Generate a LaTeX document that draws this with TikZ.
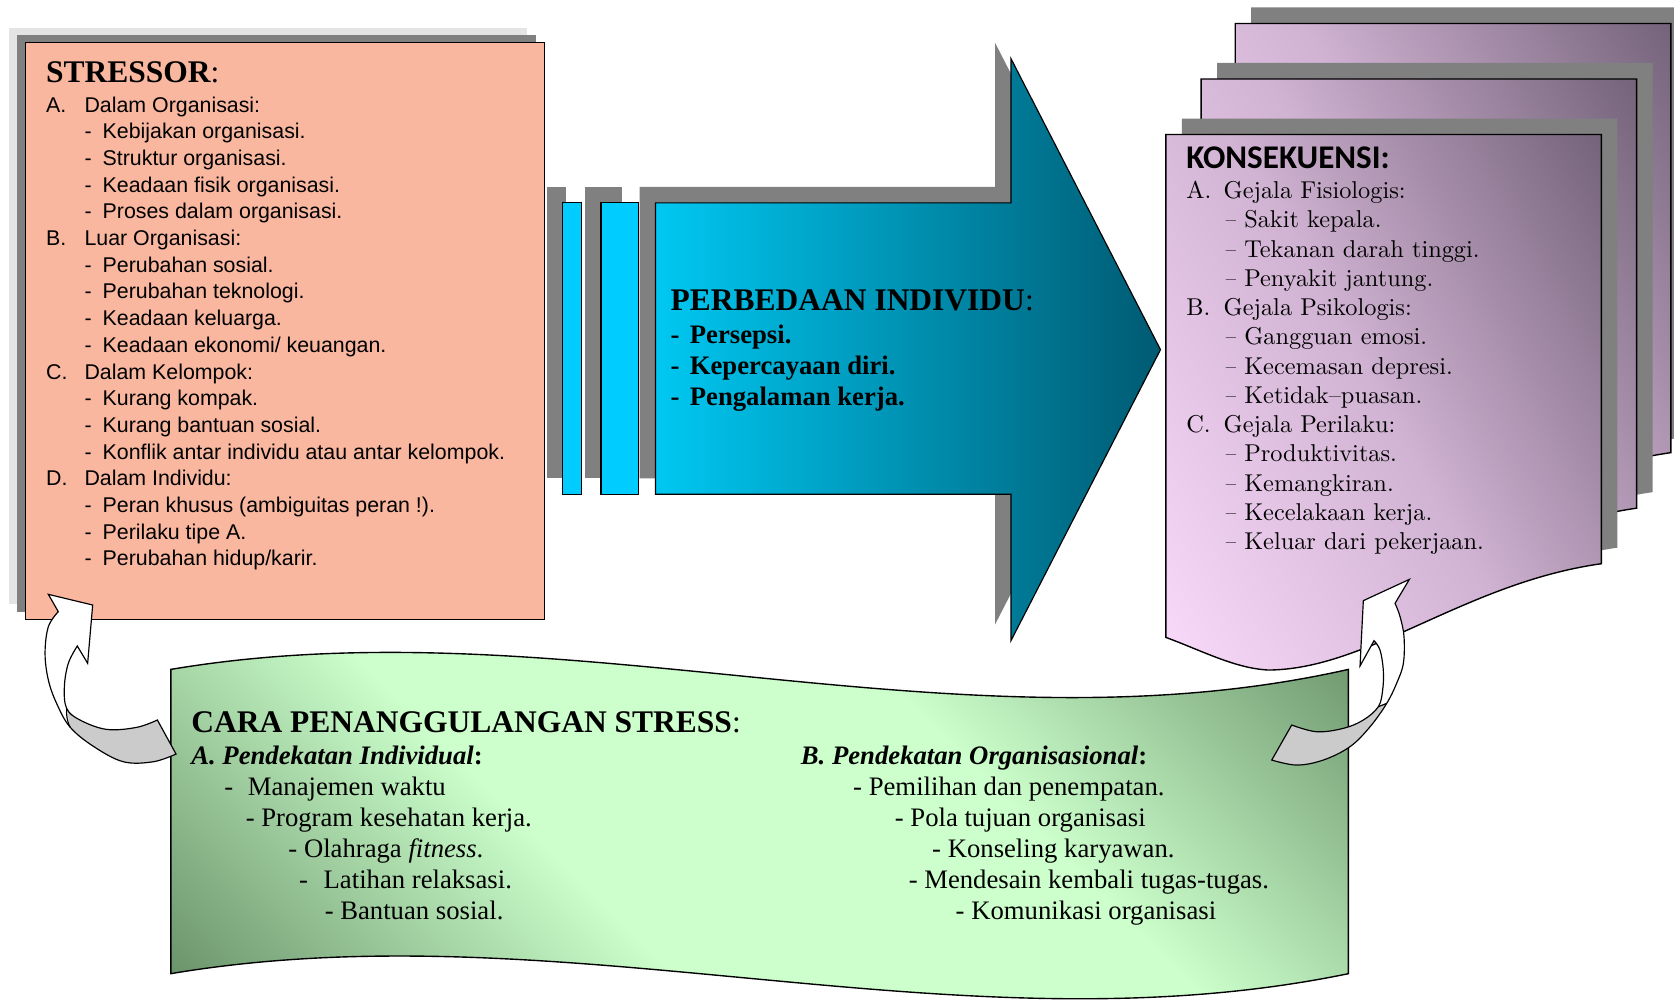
\documentclass[tikz,border=0pt]{standalone}
\usepackage{fontspec}
\usepackage{graphicx}
\newfontfamily\timesf{Liberation Serif}
\newfontfamily\arialf{Liberation Sans}
\newfontfamily\calibrif{Carlito}

\definecolor{salmon}{HTML}{F9B7A0}
\definecolor{shadowdark}{HTML}{808080}
\definecolor{shadowlight}{HTML}{E4E4E4}
\definecolor{cyanbar}{HTML}{00CCFF}
\definecolor{arrowleft}{HTML}{00C8F2}
\definecolor{arrowright}{HTML}{005A72}
\definecolor{pagelight}{HTML}{FADAFA}
\definecolor{pagemid}{HTML}{D0B2D2}
\definecolor{pagedark}{HTML}{74637A}
\definecolor{glight}{HTML}{CCFFCC}
\definecolor{gdarkA}{HTML}{5E855E}
\definecolor{gdarkB}{HTML}{638A63}
\definecolor{tailgray}{HTML}{CBCBCB}

% diagonal green fill: dark corners, light middle
\pgfdeclareverticalshading{wavegreen}{100bp}{color(0bp)=(gdarkA); color(15bp)=(gdarkA); color(40bp)=(glight); color(62bp)=(glight); color(86bp)=(gdarkB); color(100bp)=(gdarkB)}
% page fill: pink at the lower left, mauve at the upper right
\pgfdeclareverticalshading{pageshade}{100bp}{color(0bp)=(pagelight); color(16bp)=(pagelight); color(50bp)=(pagemid); color(84bp)=(pagedark); color(100bp)=(pagedark)}

\newcommand\sthead[1]{\makebox[36pt][l]{#1}}
\newcommand\stitem{\makebox[36pt][l]{}\makebox[17pt][l]{-}}
% list text on the front page is set at 10pt and enlarged
\newcommand\kotext[1]{\scalebox{2.28}{\fontsize{10}{12}\selectfont #1}}
\newcommand\kohead[1]{\makebox[15.35pt][l]{#1}}
\newcommand\koitem{\makebox[16.2pt][l]{}\makebox[7.6pt][l]{\scalebox{0.85}[1]{–}}}

\tikzset{
  outline/.style={draw=black, line width=1.3pt, line join=miter},
  stxt/.style={anchor=base west, inner sep=0pt, font=\arialf\fontsize{20}{24}\selectfont},
  ktxt/.style={anchor=base west, inner sep=0pt, font=\rmfamily},
  ptxt/.style={anchor=base west, inner sep=0pt, font=\timesf\bfseries\fontsize{25}{29}\selectfont},
  gtxt/.style={anchor=base west, inner sep=0pt, font=\timesf\fontsize{25}{29}\selectfont},
  ttl/.style={anchor=base west, inner sep=0pt, font=\timesf\fontsize{29.5}{34}\selectfont},
}

\begin{document}
\begin{tikzpicture}[x=1pt,y=-1pt]
\useasboundingbox (0,0) rectangle (1568,937);
\fill[white] (0,0) rectangle (1568,937);

% ---------- STRESSOR box with its two shadows ----------
\fill[shadowlight] (8,26) rectangle (494,566);
\fill[shadowdark] (16,33) rectangle (502,573);
\draw[outline, fill=salmon] (24,40) rectangle (510,580);
\node[ttl] (sttitle) at (43,77) {\bfseries STRESSOR\mdseries:};
\foreach \txt [count=\i from 0] in {
  {\sthead{A.}Dalam Organisasi:},
  {\stitem Kebijakan organisasi.},
  {\stitem Struktur organisasi.},
  {\stitem Keadaan fisik organisasi.},
  {\stitem Proses dalam organisasi.},
  {\sthead{B.}Luar Organisasi:},
  {\stitem Perubahan sosial.},
  {\stitem Perubahan teknologi.},
  {\stitem Keadaan keluarga.},
  {\stitem Keadaan ekonomi/ keuangan.},
  {\sthead{C.}Dalam Kelompok:},
  {\stitem Kurang kompak.},
  {\stitem Kurang bantuan sosial.},
  {\stitem Konflik antar individu atau antar kelompok.},
  {\sthead{D.}Dalam Individu:},
  {\stitem Peran khusus (ambiguitas peran !).},
  {\stitem Perilaku tipe A.},
  {\stitem Perubahan hidup/karir.}}
  \node[stxt] (st\i) at (43,105+25*\i) {\txt};

% ---------- bars and block arrow ----------
\fill[shadowdark] (512,175) rectangle (530,448);
\fill[shadowdark] (548,175) rectangle (583,448);
\fill[shadowdark] (599,175) -- (932,175) -- (932,40) -- (1072,312.5) -- (932,585) -- (932,448) -- (599,448) -- cycle;
\draw[outline, line width=1.1pt, fill=cyanbar] (527,190) rectangle (545,463);
\draw[outline, line width=1.1pt, fill=cyanbar] (563,190) rectangle (598,463);
\shade[outline, line width=1.1pt, left color=arrowleft, right color=arrowright]
  (614,190) -- (947,190) -- (947,55) -- (1087,327.5) -- (947,600) -- (947,463) -- (614,463) -- cycle;
\node[ttl] (pbtitle) at (628,291) {\bfseries PERBEDAAN INDIVIDU\mdseries:};
\node[ptxt] (pb1) at (628,322) {\makebox[18pt][l]{-}Persepsi.};
\node[ptxt] (pb2) at (628,351) {\makebox[18pt][l]{-}Kepercayaan diri.};
\node[ptxt] (pb3) at (628,380) {\makebox[18pt][l]{-}Pengalaman kerja.};

% ---------- stacked document pages ----------
\foreach \px/\py in {1157/22, 1125/74, 1092/126} {
  \begin{scope}[shift={(\px,\py)}]
    \fill[shadowdark] (15,-15) -- (423,-15) -- (423,387) .. controls (295,405) and (205,486) .. (111,486.6) .. controls (80,485) and (50,469) .. (15,456) -- cycle;
    \shade[outline, shading=pageshade, shading angle=-61]
      (0,0) -- (408,0) -- (408,402) .. controls (280,420) and (190,501) .. (96,501.6) .. controls (65,500) and (35,484) .. (0,471) -- cycle;
  \end{scope}
}
\node[anchor=base west, inner sep=0pt, font=\calibrif\bfseries\fontsize{31}{36}\selectfont] (kotitle) at (1111,158) {KONSEKUENSI:};
\foreach \txt [count=\i from 0] in {
  {\kohead{A.}Gejala Fisiologis:},
  {\koitem Sakit kepala.},
  {\koitem Tekanan darah tinggi.},
  {\koitem Penyakit jantung.},
  {\kohead{B.}Gejala Psikologis:},
  {\koitem Gangguan emosi.},
  {\koitem Kecemasan depresi.},
  {\koitem Ketidak–puasan.},
  {\kohead{C.}Gejala Perilaku:},
  {\koitem Produktivitas.},
  {\koitem Kemangkiran.},
  {\koitem Kecelakaan kerja.},
  {\koitem Keluar dari pekerjaan.}}
  \node[ktxt] (ko\i) at (1111,186+27.4*\i) {\kotext{\txt}};

% ---------- wave banner ----------
\shade[outline, shading=wavegreen, shading angle=-45]
  (160,627) .. controls (528,565) and (895,710) .. (1263,627) -- (1263,912)
  .. controls (895,988) and (528,850) .. (160,912) -- cycle;
\node[ttl] (cptitle) at (179,686) {\bfseries CARA PENANGGULANGAN STRESS\mdseries:};
\node[gtxt] (pa) at (179,716) {\bfseries\itshape A. Pendekatan Individual\upshape:};
\node[gtxt] (pa1) at (210,745) {\makebox[22pt][l]{-}Manajemen waktu};
\node[gtxt] (pa2) at (230,774) {- Program kesehatan kerja.};
\node[gtxt] (pa3) at (270,803) {- Olahraga \textit{fitness}.};
\node[gtxt] (pa4) at (280,832) {\makebox[23pt][l]{-}Latihan relaksasi.};
\node[gtxt] (pa5) at (304,861) {- Bantuan sosial.};
\node[gtxt] (pb) at (750,716) {\bfseries\itshape B. Pendekatan Organisasional\upshape:};
\node[gtxt] (po1) at (799,745) {- Pemilihan dan penempatan.};
\node[gtxt] (po2) at (838,774) {- Pola tujuan organisasi};
\node[gtxt] (po3) at (873,803) {- Konseling karyawan.};
\node[gtxt] (po4) at (851,832) {- Mendesain kembali tugas-tugas.};
\node[gtxt] (po5) at (895,861) {- Komunikasi organisasi};

% ---------- curved arrow back to the stressor box ----------
\fill[white] (45.3,556.7) -- (86.8,566.7) -- (82.1,621.3) -- (72.4,605.1)
  -- plot[smooth, tension=0.6] coordinates {(72.4,605.1) (64,621.3) (60.3,643.2) (62.4,663.5) (74.9,674.4) (99.9,683.2) (128,681.3) (147.4,674.4)}
  -- (164.9,706.3)
  -- plot[smooth, tension=0.6] coordinates {(164.9,706.3) (143.6,713.5) (115.5,713.5) (87.4,699) (65.6,681) (53.1,659) (45.3,637) (42.2,612) (45.3,587) (54.6,572.9)}
  -- cycle;
\fill[tailgray] plot[smooth, tension=0.6] coordinates {(62.4,663.5) (74.9,674.4) (99.9,683.2) (128,681.3) (147.4,674.4)}
  -- (164.9,706.3)
  -- plot[smooth, tension=0.6] coordinates {(164.9,706.3) (143.6,713.5) (115.5,713.5) (87.4,699) (65.6,681)}
  -- cycle;
\draw[outline, line width=1.1pt] (45.3,556.7) -- (86.8,566.7) -- (82.1,621.3) -- (72.4,605.1)
  -- plot[smooth, tension=0.6] coordinates {(72.4,605.1) (64,621.3) (60.3,643.2) (62.4,663.5) (74.9,674.4) (99.9,683.2) (128,681.3) (147.4,674.4)}
  -- (164.9,706.3)
  -- plot[smooth, tension=0.6] coordinates {(164.9,706.3) (143.6,713.5) (115.5,713.5) (87.4,699) (65.6,681) (53.1,659) (45.3,637) (42.2,612) (45.3,587) (54.6,572.9)}
  -- cycle;
\draw[outline, line width=1.1pt] (62.4,663.5) .. controls (62,670) and (63,676) .. (65.6,681);

% ---------- curved arrow up to the consequences pages ----------
\fill[white] (1320.1,542.7) -- (1277,562.6) -- (1273.9,623.8) -- (1287,600.1)
  -- plot[smooth, tension=0.6] coordinates {(1287,600.1) (1292.6,608.8) (1295.7,627.6) (1295.1,646.3) (1291,662) (1277,674.4) (1258.3,682.2) (1233.3,685.4) (1209.9,679.1)}
  -- (1191.2,711.9)
  -- plot[smooth, tension=0.6] coordinates {(1191.2,711.9) (1214.6,716.6) (1239.5,711.9) (1264.5,699.4) (1283.3,680.7) (1298.9,658.8) (1308.2,640) (1314.5,621.3) (1315.1,596.4) (1311.4,577.6) (1306.7,565.1)}
  -- cycle;
\fill[tailgray] plot[smooth, tension=0.6] coordinates {(1291,662) (1277,674.4) (1258.3,682.2) (1233.3,685.4) (1209.9,679.1)}
  -- (1191.2,711.9)
  -- plot[smooth, tension=0.6] coordinates {(1191.2,711.9) (1214.6,716.6) (1239.5,711.9) (1264.5,699.4) (1283.3,680.7) (1298.9,658.8)}
  -- cycle;
\draw[outline, line width=1.1pt] (1320.1,542.7) -- (1277,562.6) -- (1273.9,623.8) -- (1287,600.1)
  -- plot[smooth, tension=0.6] coordinates {(1287,600.1) (1292.6,608.8) (1295.7,627.6) (1295.1,646.3) (1291,662) (1277,674.4) (1258.3,682.2) (1233.3,685.4) (1209.9,679.1)}
  -- (1191.2,711.9)
  -- plot[smooth, tension=0.6] coordinates {(1191.2,711.9) (1214.6,716.6) (1239.5,711.9) (1264.5,699.4) (1283.3,680.7) (1298.9,658.8) (1308.2,640) (1314.5,621.3) (1315.1,596.4) (1311.4,577.6) (1306.7,565.1)}
  -- cycle;
\draw[outline, line width=1.1pt] (1291,662) -- (1298.9,658.8);
\end{tikzpicture}
\end{document}
